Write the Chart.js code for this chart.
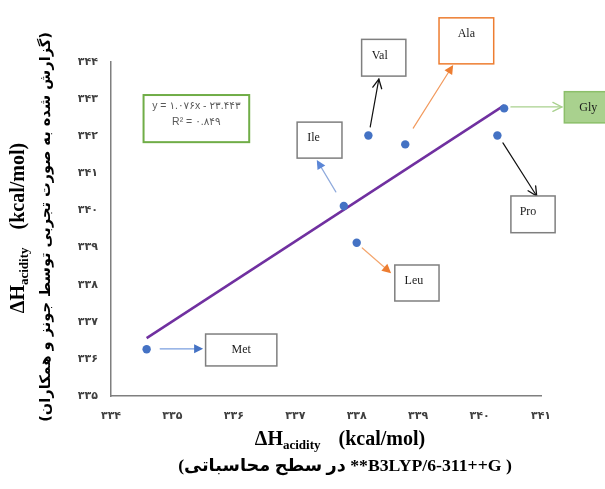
<!DOCTYPE html>
<html><head><meta charset="utf-8">
<script src="https://cdn.jsdelivr.net/npm/chart.js@4"></script>
<style>html,body{margin:0;padding:0;background:#fff}</style>
</head><body>
<canvas id="c" width="605" height="489"></canvas>
<script>
// ---- data ----
const aminoAcids  = ['Met','Leu','Ile','Val','Ala','Gly','Pro'];
const calcValues  = [334.58, 338.00, 337.79, 338.19, 338.79, 340.40, 340.29];
const expValues   = [336.26, 339.13, 340.12, 342.02, 341.78, 342.75, 342.02];
const trendX      = [334.58, 340.40];
const trendY      = [336.56, 342.83];
const xTickLabels = ['۳۳۴','۳۳۵','۳۳۶','۳۳۷','۳۳۸','۳۳۹','۳۴۰','۳۴۱'];
const yTickLabels = ['۳۳۵','۳۳۶','۳۳۷','۳۳۸','۳۳۹','۳۴۰','۳۴۱','۳۴۲','۳۴۳','۳۴۴'];
const equationLines = ['y = ۱.۰۷۶x - ۲۳.۴۴۳', 'R² = ۰.۸۴۹'];
const xTitleMain = ['ΔH', 'acidity', '(kcal/mol)'];
const xTitleSub  = '(در سطح محاسباتی **B3LYP/6-311++G )';
const yTitleFa   = '(گزارش شده به صورت تجربی توسط جونز و همکاران)';

// ---- callout decoration (in data units) ----
const callouts = {
  Met: {box:[335.54,336.67,336.70,335.81], from:[334.80,336.27], to:[335.50,336.27], border:'#7f7f7f', fill:null, line:'#7b9fe0', head:'#4472c4', type:'filled', dx:0},
  Leu: {box:[338.62,338.53,339.34,337.56], from:[338.09,338.99], to:[338.56,338.31], border:'#7f7f7f', fill:null, line:'#f4a66e', head:'#ed7d31', type:'filled', dx:-3},
  Ile: {box:[337.03,342.38,337.76,341.41], from:[337.66,340.50], to:[337.35,341.36], border:'#7f7f7f', fill:null, line:'#8faadc', head:'#5b86d6', type:'filled', dx:-6},
  Val: {box:[338.08,344.61,338.80,343.62], from:[338.22,342.25], to:[338.36,343.54], border:'#7f7f7f', fill:null, line:'#111111', head:'#111111', type:'open', dx:-4},
  Ala: {box:[339.34,345.19,340.23,343.95], from:[338.92,342.22], to:[339.57,343.92], border:'#ed7d31', fill:null, line:'#f29a5e', head:'#ed7d31', type:'filled', dx:0},
  Gly: {box:[341.38,343.20,342.16,342.36], from:[340.51,342.79], to:[341.34,342.79], border:'#8cbf6a', fill:'#a9d18e', line:'#a9d18e', head:'#a9d18e', type:'open', dx:0},
  Pro: {box:[340.51,340.39,341.23,339.40], from:[340.38,341.82], to:[340.93,340.39], border:'#7f7f7f', fill:null, line:'#111111', head:'#111111', type:'open', dx:-5}
};
const equationBox = {box:[334.53,343.11,336.25,341.84]};

function drawArrow(ctx, x1, y1, x2, y2, line, head, type){
  const a = Math.atan2(y2 - y1, x2 - x1);
  const L = 9, W = 4.5;
  ctx.save();
  ctx.lineCap = 'round';
  ctx.strokeStyle = line; ctx.lineWidth = 1.2;
  const ex = type === 'filled' ? x2 - Math.cos(a) * L * 0.7 : x2;
  const ey = type === 'filled' ? y2 - Math.sin(a) * L * 0.7 : y2;
  ctx.beginPath(); ctx.moveTo(x1, y1); ctx.lineTo(ex, ey); ctx.stroke();
  const bx = x2 - Math.cos(a) * L, by = y2 - Math.sin(a) * L;
  const px = -Math.sin(a) * W, py = Math.cos(a) * W;
  if (type === 'filled') {
    ctx.fillStyle = head;
    ctx.beginPath(); ctx.moveTo(x2, y2); ctx.lineTo(bx + px, by + py); ctx.lineTo(bx - px, by - py); ctx.closePath(); ctx.fill();
  } else {
    ctx.strokeStyle = head; ctx.lineWidth = 1.3;
    ctx.beginPath(); ctx.moveTo(bx + px, by + py); ctx.lineTo(x2, y2); ctx.lineTo(bx - px, by - py); ctx.stroke();
  }
  ctx.restore();
}

function drawRuns(ctx, runs, cx, cy, rot){
  ctx.save();
  ctx.translate(cx, cy);
  if (rot) ctx.rotate(rot);
  let total = 0;
  runs.forEach(r => { ctx.font = r.font; r.w = ctx.measureText(r.text).width; total += r.w + (r.gap || 0); });
  let x = -total / 2;
  ctx.textBaseline = 'middle'; ctx.textAlign = 'left'; ctx.fillStyle = '#000';
  runs.forEach(r => { ctx.font = r.font; ctx.fillText(r.text, x, r.dy || 0); x += r.w + (r.gap || 0); });
  ctx.restore();
}

function fitFont(ctx, text, weight, family, target){
  ctx.font = weight + ' 20px ' + family;
  const w = ctx.measureText(text).width;
  return weight + ' ' + (20 * target / w).toFixed(2) + 'px ' + family;
}

const overlay = {
  id: 'overlay',
  afterDraw(chart){
    const ctx = chart.ctx, xs = chart.scales.x, ys = chart.scales.y;
    const X = v => xs.getPixelForValue(v), Y = v => ys.getPixelForValue(v);
    // callouts
    aminoAcids.forEach(name => {
      const c = callouts[name];
      drawArrow(ctx, X(c.from[0]), Y(c.from[1]), X(c.to[0]), Y(c.to[1]), c.line, c.head, c.type);
      const bx1 = X(c.box[0]), by1 = Y(c.box[1]), bx2 = X(c.box[2]), by2 = Y(c.box[3]);
      ctx.save();
      if (c.fill) { ctx.fillStyle = c.fill; ctx.fillRect(bx1, by1, bx2 - bx1, by2 - by1); }
      ctx.fillStyle = '#fff';
      if (!c.fill) ctx.fillRect(bx1, by1, bx2 - bx1, by2 - by1);
      ctx.strokeStyle = c.border; ctx.lineWidth = 1.5;
      ctx.strokeRect(bx1, by1, bx2 - bx1, by2 - by1);
      ctx.fillStyle = '#1a1a1a';
      ctx.font = '12px "Liberation Serif", "DejaVu Serif", serif';
      ctx.textAlign = 'center'; ctx.textBaseline = 'middle';
      ctx.fillText(name, (bx1 + bx2) / 2 + c.dx, by1 + 16);
      ctx.restore();
    });
    // equation box
    const e = equationBox.box;
    const ex1 = X(e[0]), ey1 = Y(e[1]), ex2 = X(e[2]), ey2 = Y(e[3]);
    ctx.save();
    ctx.fillStyle = '#fff'; ctx.fillRect(ex1, ey1, ex2 - ex1, ey2 - ey1);
    ctx.strokeStyle = '#70ad47'; ctx.lineWidth = 2;
    ctx.strokeRect(ex1, ey1, ex2 - ex1, ey2 - ey1);
    ctx.fillStyle = '#595959'; ctx.font = '10.5px "Liberation Sans", "DejaVu Sans", sans-serif';
    ctx.textAlign = 'center'; ctx.textBaseline = 'middle';
    const ecx = (ex1 + ex2) / 2;
    ctx.fillText(equationLines[0], ecx, ey1 + 11);
    ctx.fillText(equationLines[1], ecx, ey1 + 27);
    ctx.restore();
    // titles
    const serifB = 'bold 20px "Liberation Serif", "DejaVu Serif", serif';
    const serifS = 'bold 13px "Liberation Serif", "DejaVu Serif", serif';
    const mainRuns = () => [
      {text: xTitleMain[0], font: serifB},
      {text: xTitleMain[1], font: serifS, dy: 6, gap: 18},
      {text: xTitleMain[2], font: serifB}
    ];
    drawRuns(ctx, mainRuns(), 340, 440, 0);
    ctx.save();
    ctx.fillStyle = '#000'; ctx.textAlign = 'center'; ctx.textBaseline = 'middle';
    ctx.font = fitFont(ctx, xTitleSub, 'bold', '"Liberation Serif", "DejaVu Sans", serif', 334);
    ctx.fillText(xTitleSub, 345, 466);
    ctx.restore();
    drawRuns(ctx, mainRuns(), 19, 228, -Math.PI / 2);
    ctx.save();
    ctx.translate(46, 227); ctx.rotate(-Math.PI / 2);
    ctx.fillStyle = '#000'; ctx.textAlign = 'center'; ctx.textBaseline = 'middle';
    ctx.font = fitFont(ctx, yTitleFa, 'bold', '"DejaVu Sans", sans-serif', 390);
    ctx.fillText(yTitleFa, 0, 0);
    ctx.restore();
  }
};

const tickFont = {family: '"DejaVu Sans", sans-serif', size: 11, weight: 'bold'};

new Chart(document.getElementById('c'), {
  type: 'scatter',
  data: {
    datasets: [
      {
        label: 'points',
        data: calcValues.map((x, i) => ({x: x, y: expValues[i]})),
        backgroundColor: '#4472c4', borderWidth: 0, pointRadius: 4.2, pointHoverRadius: 4.2
      },
      {
        label: 'trend',
        data: trendX.map((x, i) => ({x: x, y: trendY[i]})),
        showLine: true, borderColor: '#7030a0', borderWidth: 2.5, pointRadius: 0, fill: false
      }
    ]
  },
  options: {
    responsive: false, animation: false, devicePixelRatio: 1,
    layout: {padding: {top: 62, right: 64, left: 0, bottom: 0}},
    plugins: {legend: {display: false}, tooltip: {enabled: false}},
    scales: {
      x: {
        type: 'linear', min: 334, max: 341,
        grid: {display: false, drawTicks: false},
        border: {display: true, color: '#7f7f7f', width: 1.5},
        ticks: {stepSize: 1, padding: 14, color: '#404040', font: tickFont, maxRotation: 0,
                callback: (v, i) => xTickLabels[i]},
        afterFit: s => { s.height = 93; }
      },
      y: {
        type: 'linear', min: 335, max: 344,
        grid: {display: false, drawTicks: false},
        border: {display: true, color: '#7f7f7f', width: 1.5},
        ticks: {stepSize: 1, padding: 13, color: '#404040', font: tickFont,
                callback: (v, i) => yTickLabels[i]},
        afterFit: s => { s.width = 111; }
      }
    }
  },
  plugins: [overlay]
});
</script>
</body></html>
